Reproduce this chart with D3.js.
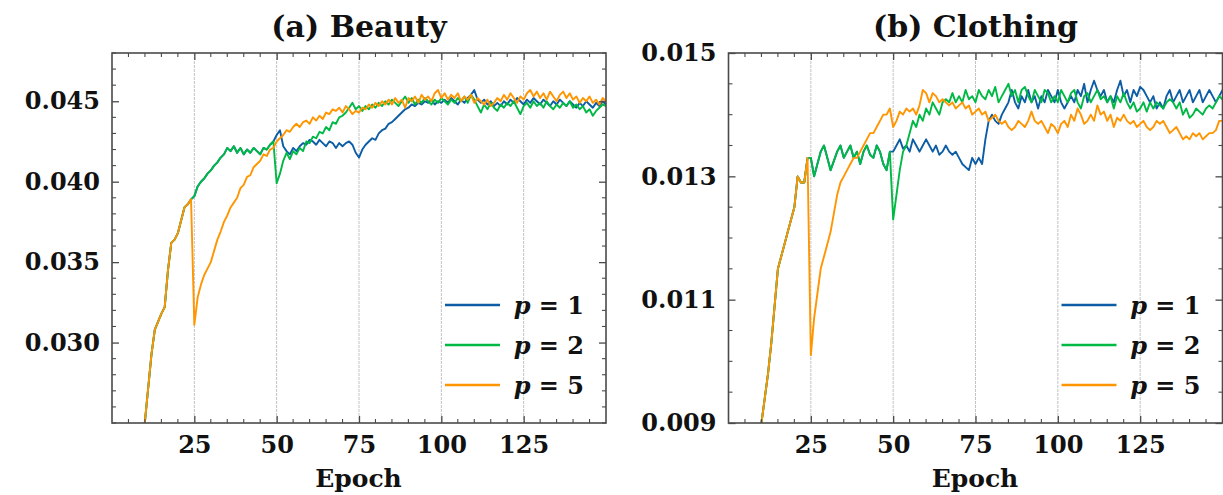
<!DOCTYPE html>
<html>
<head>
<meta charset="utf-8">
<script src="https://cdn.jsdelivr.net/npm/d3@7"></script>
<style>
  html, body { margin: 0; padding: 0; background: #fff; }
  svg { display: block; }
  text { font-family: "DejaVu Serif", serif; font-weight: bold; fill: #111; }
</style>
</head>
<body>
<svg id="chart" width="1223" height="495"></svg>
<script>
// ---- Data -------------------------------------------------------------
// Epochs run 1..150. All settings share the warm-up curve; p = 1 and p = 2
// coincide until epoch 49, p = 5 branches off at epoch 25.
const epochs = d3.range(1, 151);
const xTicks = [25, 50, 75, 100, 125];
const seriesLabels = ["1", "2", "5"];
const seriesColors = ["#0C5DA5", "#00B945", "#FF9500"];

// (a) Beauty
const beautyWarmup = [0.0100, 0.0118, 0.0135, 0.0152, 0.0168, 0.0185, 0.0201, 0.0218, 0.0234, 0.0251,
  0.0272, 0.0293, 0.0308, 0.0313, 0.0318, 0.0322, 0.0345, 0.0362, 0.0364, 0.0368,
  0.0376, 0.0384, 0.0386, 0.0389];
const beautyP12 = [0.0391, 0.0397, 0.0400, 0.0402, 0.0405, 0.0407, 0.0410, 0.0412, 0.0415, 0.0417,
  0.0421, 0.0419, 0.0422, 0.0418, 0.0421, 0.0417, 0.0420, 0.0418, 0.0421, 0.0419,
  0.0417, 0.0421, 0.0420, 0.0423, 0.0425];
const beautyP1Tail = [0.0429, 0.0432, 0.0422, 0.0419, 0.0417, 0.0421, 0.0419, 0.0422, 0.0424, 0.0423,
  0.0426, 0.0425, 0.0423, 0.0426, 0.0424, 0.0422, 0.0425, 0.0424, 0.0421, 0.0424,
  0.0422, 0.0424, 0.0425, 0.0423, 0.0418, 0.0415, 0.0420, 0.0423, 0.0425, 0.0427,
  0.0426, 0.0430, 0.0432, 0.0433, 0.0436, 0.0437, 0.0439, 0.0441, 0.0443, 0.0445,
  0.0446, 0.0448, 0.0447, 0.0449, 0.0448, 0.0450, 0.0449, 0.0451, 0.0448, 0.0450,
  0.0449, 0.0451, 0.0449, 0.0452, 0.0450, 0.0448, 0.0451, 0.0449, 0.0452, 0.0454,
  0.0457, 0.0451, 0.0449, 0.0451, 0.0448, 0.0450, 0.0447, 0.0449, 0.0447, 0.0450,
  0.0448, 0.0451, 0.0449, 0.0452, 0.0450, 0.0448, 0.0451, 0.0449, 0.0452, 0.0450,
  0.0448, 0.0451, 0.0449, 0.0447, 0.0450, 0.0448, 0.0451, 0.0449, 0.0447, 0.0450,
  0.0448, 0.0446, 0.0449, 0.0447, 0.0450, 0.0448, 0.0446, 0.0449, 0.0447, 0.0450,
  0.0448];
const beautyP2Tail = [0.0399, 0.0405, 0.0413, 0.0418, 0.0414, 0.0419, 0.0417, 0.0421, 0.0419, 0.0425,
  0.0424, 0.0428, 0.0427, 0.0431, 0.0430, 0.0434, 0.0432, 0.0437, 0.0436, 0.0440,
  0.0441, 0.0443, 0.0446, 0.0449, 0.0445, 0.0447, 0.0444, 0.0447, 0.0445, 0.0448,
  0.0446, 0.0449, 0.0447, 0.0450, 0.0448, 0.0451, 0.0449, 0.0447, 0.0450, 0.0453,
  0.0449, 0.0452, 0.0448, 0.0451, 0.0449, 0.0452, 0.0450, 0.0448, 0.0451, 0.0449,
  0.0452, 0.0450, 0.0448, 0.0451, 0.0449, 0.0452, 0.0450, 0.0453, 0.0449, 0.0454,
  0.0451, 0.0447, 0.0443, 0.0448, 0.0445, 0.0449, 0.0446, 0.0444, 0.0448, 0.0446,
  0.0449, 0.0447, 0.0450, 0.0446, 0.0442, 0.0447, 0.0449, 0.0446, 0.0450, 0.0447,
  0.0449, 0.0446, 0.0450, 0.0447, 0.0445, 0.0448, 0.0446, 0.0449, 0.0447, 0.0450,
  0.0446, 0.0448, 0.0445, 0.0447, 0.0443, 0.0445, 0.0441, 0.0444, 0.0446, 0.0448,
  0.0447];
const beautyP5Tail = [0.0311, 0.0328, 0.0336, 0.0342, 0.0346, 0.0350, 0.0357, 0.0364, 0.0369, 0.0375,
  0.0379, 0.0384, 0.0387, 0.0390, 0.0396, 0.0398, 0.0403, 0.0404, 0.0409, 0.0411,
  0.0413, 0.0417, 0.0416, 0.0420, 0.0421, 0.0425, 0.0427, 0.0429, 0.0432, 0.0431,
  0.0434, 0.0436, 0.0434, 0.0437, 0.0438, 0.0436, 0.0440, 0.0438, 0.0441, 0.0439,
  0.0443, 0.0442, 0.0445, 0.0444, 0.0446, 0.0443, 0.0447, 0.0445, 0.0442, 0.0444,
  0.0443, 0.0446, 0.0445, 0.0448, 0.0446, 0.0449, 0.0447, 0.0450, 0.0448, 0.0451,
  0.0448, 0.0452, 0.0449, 0.0451, 0.0446, 0.0452, 0.0450, 0.0453, 0.0449, 0.0454,
  0.0451, 0.0453, 0.0450, 0.0455, 0.0457, 0.0452, 0.0455, 0.0451, 0.0454, 0.0452,
  0.0455, 0.0450, 0.0453, 0.0451, 0.0454, 0.0449, 0.0452, 0.0450, 0.0448, 0.0451,
  0.0447, 0.0449, 0.0452, 0.0450, 0.0454, 0.0451, 0.0455, 0.0452, 0.0449, 0.0453,
  0.0451, 0.0455, 0.0457, 0.0453, 0.0456, 0.0452, 0.0455, 0.0451, 0.0456, 0.0453,
  0.0450, 0.0454, 0.0456, 0.0452, 0.0455, 0.0451, 0.0453, 0.0449, 0.0452, 0.0450,
  0.0453, 0.0449, 0.0451, 0.0448, 0.0452, 0.0450];
const beautyYTicks = [0.030, 0.035, 0.040, 0.045];

// (b) Clothing
const clothingWarmup = [0.0047, 0.0052, 0.0057, 0.0062, 0.0067, 0.0072, 0.0077, 0.0082, 0.0086, 0.0090,
  0.0094, 0.0098, 0.0103, 0.0109, 0.0115, 0.0117, 0.0119, 0.0121, 0.0123, 0.0125,
  0.0130, 0.0129, 0.0129, 0.0133];
const clothingP12 = [0.0133, 0.0130, 0.0132, 0.0134, 0.0135, 0.0133, 0.0131, 0.01325, 0.0134, 0.0135,
  0.0133, 0.0134, 0.0135, 0.0133, 0.0134, 0.0132, 0.0134, 0.0135, 0.01335, 0.0133,
  0.0135, 0.0134, 0.0132, 0.0131, 0.0134];
const clothingP1Tail = [0.0134, 0.0135, 0.0136, 0.01345, 0.0135, 0.0134, 0.0136, 0.0135, 0.0134, 0.0135,
  0.0136, 0.0135, 0.0134, 0.0135, 0.01335, 0.0134, 0.0135, 0.0134, 0.01335, 0.0134,
  0.0133, 0.0132, 0.01315, 0.0131, 0.0133, 0.0132, 0.0133, 0.0132, 0.0136, 0.0139,
  0.0140, 0.0139, 0.01385, 0.0140, 0.0141, 0.0142, 0.0144, 0.0142, 0.0141, 0.0143,
  0.0142, 0.0144, 0.0142, 0.0143, 0.0141, 0.0143, 0.0142, 0.0144, 0.0143, 0.0142,
  0.0144, 0.0142, 0.0141, 0.0142, 0.0143, 0.0142, 0.0144, 0.0143, 0.0145, 0.0142,
  0.0144, 0.01455, 0.0144, 0.0143, 0.0144, 0.0142, 0.0143, 0.0142, 0.0144, 0.01455,
  0.0143, 0.0144, 0.0142, 0.0144, 0.0143, 0.01445, 0.0144, 0.0143, 0.0142, 0.0143,
  0.0141, 0.0142, 0.0141, 0.0143, 0.0144, 0.0142, 0.0143, 0.0144, 0.0142, 0.0143,
  0.0144, 0.0142, 0.0143, 0.0144, 0.0142, 0.0143, 0.0144, 0.0143, 0.0142, 0.0143,
  0.0144];
const clothingP2Tail = [0.0123, 0.0127, 0.0131, 0.0134, 0.0135, 0.0137, 0.0139, 0.0138, 0.0140, 0.0139,
  0.0141, 0.0140, 0.0142, 0.0141, 0.0140, 0.0142, 0.01425, 0.0142, 0.01435, 0.0142,
  0.0143, 0.0142, 0.0144, 0.01425, 0.0143, 0.0142, 0.0144, 0.0143, 0.01425, 0.0144,
  0.0143, 0.01445, 0.0142, 0.0143, 0.0144, 0.0145, 0.0143, 0.0144, 0.0142, 0.0144,
  0.01445, 0.0143, 0.0142, 0.0144, 0.0143, 0.0142, 0.0144, 0.01435, 0.0142, 0.0143,
  0.0142, 0.0144, 0.0143, 0.0142, 0.01435, 0.0144, 0.0142, 0.0141, 0.0143, 0.01435,
  0.0142, 0.0143, 0.0144, 0.01425, 0.0143, 0.0142, 0.0143, 0.0141, 0.0143, 0.0142,
  0.01435, 0.0142, 0.0141, 0.0142, 0.01405, 0.0141, 0.0142, 0.01405, 0.0142, 0.0141,
  0.0142, 0.01415, 0.0141, 0.0142, 0.01425, 0.0142, 0.0141, 0.0142, 0.0140, 0.0141,
  0.01395, 0.0140, 0.0141, 0.01405, 0.0140, 0.0141, 0.01415, 0.0141, 0.0142, 0.0143,
  0.01425];
const clothingP5Tail = [0.0101, 0.0107, 0.0111, 0.0115, 0.0117, 0.0119, 0.0121, 0.0124, 0.0127, 0.0129,
  0.0130, 0.0131, 0.0132, 0.0133, 0.0133, 0.0134, 0.0135, 0.0136, 0.0137, 0.0137,
  0.0138, 0.0139, 0.0140, 0.0140, 0.0141, 0.0138, 0.0139, 0.01405, 0.0140, 0.0141,
  0.01405, 0.0141, 0.0140, 0.01415, 0.0144, 0.01435, 0.0142, 0.01435, 0.0143, 0.0142,
  0.01425, 0.0142, 0.01415, 0.0142, 0.0141, 0.01415, 0.0142, 0.0141, 0.01415, 0.0140,
  0.01405, 0.0141, 0.0140, 0.01405, 0.0139, 0.01395, 0.0140, 0.0139, 0.01385, 0.0139,
  0.0138, 0.01375, 0.0138, 0.0139, 0.01385, 0.0138, 0.0139, 0.01405, 0.0139, 0.01385,
  0.0139, 0.0138, 0.0137, 0.01385, 0.0138, 0.0137, 0.01385, 0.0139, 0.0138, 0.0140,
  0.0139, 0.0141, 0.0140, 0.01385, 0.0139, 0.0140, 0.0139, 0.01415, 0.0140, 0.01405,
  0.0139, 0.0140, 0.0138, 0.01395, 0.0139, 0.0140, 0.0139, 0.01385, 0.0139, 0.0138,
  0.01385, 0.0139, 0.0138, 0.01375, 0.0138, 0.0139, 0.01385, 0.0139, 0.0138, 0.0137,
  0.01375, 0.0138, 0.0137, 0.0136, 0.01365, 0.0136, 0.0137, 0.01365, 0.0137, 0.0136,
  0.01365, 0.0137, 0.0137, 0.01375, 0.0139, 0.0139];
const clothingYTicks = [0.009, 0.011, 0.013, 0.015];

// ---- Panels -----------------------------------------------------------
const panels = [
  {
    title: "(a) Beauty", left: 112, yDomain: [0.025, 0.048], yTicks: beautyYTicks, yMinorStep: 0.001,
    series: [
      beautyWarmup.concat(beautyP12, beautyP1Tail),
      beautyWarmup.concat(beautyP12, beautyP2Tail),
      beautyWarmup.concat(beautyP5Tail)
    ]
  },
  {
    title: "(b) Clothing", left: 728.5, yDomain: [0.009, 0.015], yTicks: clothingYTicks, yMinorStep: 0.0005,
    series: [
      clothingWarmup.concat(clothingP12, clothingP1Tail),
      clothingWarmup.concat(clothingP12, clothingP2Tail),
      clothingWarmup.concat(clothingP5Tail)
    ]
  }
];

const plotTop = 53, plotH = 370, plotW = 494;
const svg = d3.select("#chart");
const frameColor = "#4a4a4a";

panels.forEach((p, pi) => {
  const g = svg.append("g").attr("transform", `translate(${p.left},${plotTop})`);
  const x = d3.scaleLinear().domain([0, 150]).range([0, plotW]);
  const y = d3.scaleLinear().domain(p.yDomain).range([plotH, 0]);

  const clipId = "clip" + pi;
  g.append("clipPath").attr("id", clipId)
    .append("rect").attr("width", plotW).attr("height", plotH);

  // vertical grid at the major epoch ticks
  g.append("g").selectAll("line").data(xTicks).join("line")
    .attr("x1", d => x(d)).attr("x2", d => x(d))
    .attr("y1", 0).attr("y2", plotH)
    .attr("stroke", "#c2c2c2").attr("stroke-width", 1)
    .attr("stroke-dasharray", "3,1");

  // curves
  const line = d3.line().x((d, i) => x(epochs[i])).y(d => y(d));
  const lines = g.append("g").attr("clip-path", `url(#${clipId})`);
  p.series.forEach((vals, si) => {
    lines.append("path").datum(vals)
      .attr("fill", "none")
      .attr("stroke", seriesColors[si])
      .attr("stroke-width", 1.9)
      .attr("stroke-linejoin", "round")
      .attr("d", line);
  });

  // inward ticks on all four sides
  const xMinor = d3.range(5, 150, 5).filter(v => !xTicks.includes(v));
  const yMinor = d3.range(p.yDomain[0], p.yDomain[1] + 1e-9, p.yMinorStep)
    .filter(v => !p.yTicks.some(t => Math.abs(t - v) < 1e-9));
  const majorLen = 7, minorLen = 4;

  const axB = d3.axisBottom(x).tickValues(xTicks).tickSizeInner(-majorLen).tickSizeOuter(0).tickPadding(13).tickFormat(d3.format("d"));
  const axT = d3.axisTop(x).tickValues(xTicks).tickSizeInner(-majorLen).tickSizeOuter(0).tickFormat("");
  const axL = d3.axisLeft(y).tickValues(p.yTicks).tickSizeInner(-majorLen).tickSizeOuter(0).tickPadding(12).tickFormat(d3.format(".3f"));
  const axR = d3.axisRight(y).tickValues(p.yTicks).tickSizeInner(-majorLen).tickSizeOuter(0).tickFormat("");

  const styleAxis = sel => {
    sel.select(".domain").remove();
    sel.selectAll("line").attr("stroke", frameColor).attr("stroke-width", 1.3);
    sel.selectAll("text").attr("font-size", 24).attr("font-family", "DejaVu Serif").attr("font-weight", "bold").attr("fill", "#111");
  };

  g.append("g").attr("transform", `translate(0,${plotH})`).call(axB).call(styleAxis);
  g.append("g").call(axT).call(styleAxis);
  g.append("g").call(axL).call(styleAxis);
  g.append("g").attr("transform", `translate(${plotW},0)`).call(axR).call(styleAxis);

  // minor ticks
  const minor = g.append("g").attr("stroke", frameColor).attr("stroke-width", 1.1);
  xMinor.forEach(v => {
    minor.append("line").attr("x1", x(v)).attr("x2", x(v)).attr("y1", plotH).attr("y2", plotH - minorLen);
    minor.append("line").attr("x1", x(v)).attr("x2", x(v)).attr("y1", 0).attr("y2", minorLen);
  });
  yMinor.forEach(v => {
    minor.append("line").attr("x1", 0).attr("x2", minorLen).attr("y1", y(v)).attr("y2", y(v));
    minor.append("line").attr("x1", plotW).attr("x2", plotW - minorLen).attr("y1", y(v)).attr("y2", y(v));
  });

  // frame
  g.append("rect").attr("width", plotW).attr("height", plotH)
    .attr("fill", "none").attr("stroke", frameColor).attr("stroke-width", 1.6);

  // title and axis label
  g.append("text").attr("x", plotW / 2).attr("y", -16).attr("text-anchor", "middle")
    .attr("font-size", 30).text(p.title);
  g.append("text").attr("x", plotW / 2 - 0.5).attr("y", plotH + 64).attr("text-anchor", "middle")
    .attr("font-size", 25).text("Epoch");

  // legend
  const leg = g.append("g");
  seriesLabels.forEach((lab, si) => {
    const ly = 252 + si * 40;
    leg.append("line").attr("x1", plotW - 161).attr("x2", plotW - 106)
      .attr("y1", ly).attr("y2", ly)
      .attr("stroke", seriesColors[si]).attr("stroke-width", 2.6);
    const t = leg.append("text").attr("x", plotW - 22).attr("y", ly + 9)
      .attr("text-anchor", "end").attr("font-size", 24);
    t.append("tspan").attr("font-style", "italic").text("p");
    t.append("tspan").text(" = " + lab);
  });
});
</script>
</body>
</html>
